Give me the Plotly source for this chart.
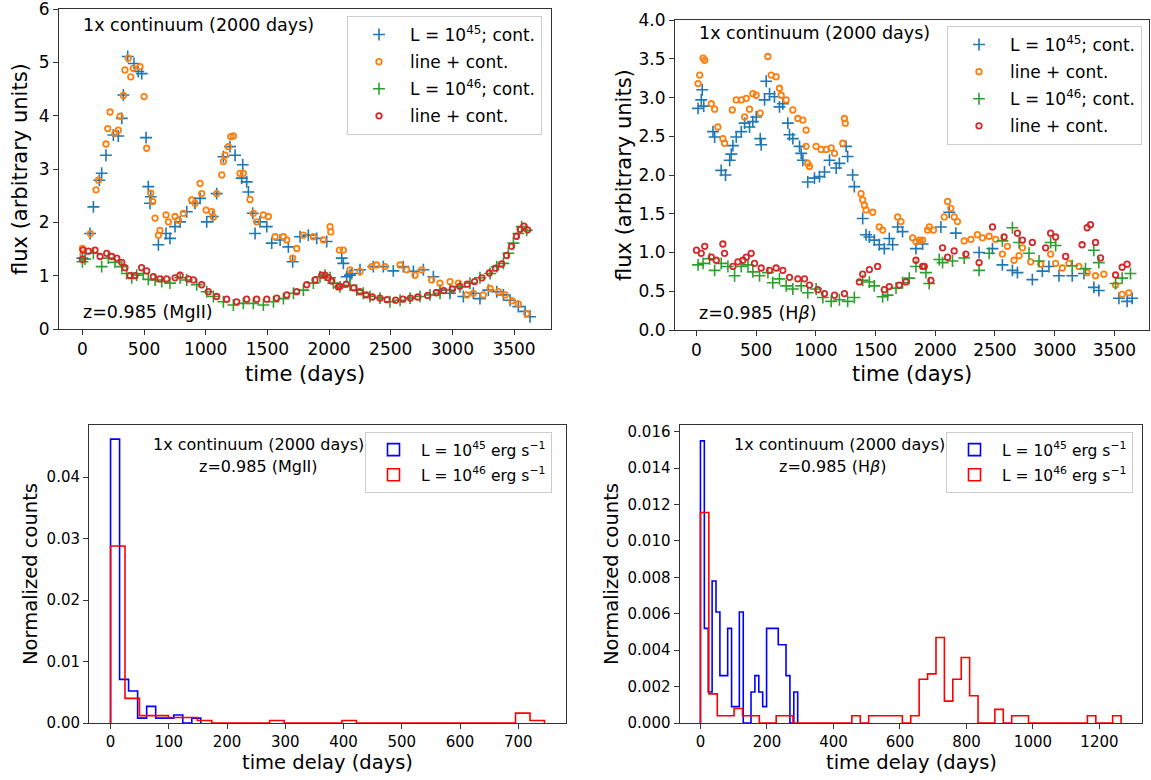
import numpy as np
import plotly.graph_objects as go

W, H = 1151, 780
FONT = "DejaVu Sans"
BLUE, ORANGE, GREEN, RED = "#1f77b4", "#ff7f0e", "#2ca02c", "#d62728"

# ---------------- light curves, MgII (top-left) ----------------
t_mg_c45 = [0, 62, 89, 137, 156, 191, 251, 291, 319, 332, 367, 418, 453, 481, 516, 534, 548, 554, 616, 678,
            710, 751, 792, 846, 913, 954, 1008, 1057, 1089, 1143, 1197, 1238, 1292, 1300, 1332, 1346, 1381, 1400, 1440, 1495,
            1535, 1603, 1670, 1705, 1765, 1832, 1900, 1981, 2103, 2116, 2143, 2170, 2184, 2251, 2359, 2440, 2521, 2602, 2684, 2765,
            2846, 2900, 2981, 3089, 3170, 3224, 3292, 3360, 3414, 3468, 3535, 3590, 3630]
f_mg_c45 = [1.33, 1.79, 2.29, 2.79, 2.92, 3.26, 3.64, 3.62, 3.95, 4.39, 5.11, 4.98, 4.83, 4.79, 3.59, 2.67, 2.36, 2.48, 1.58, 1.79,
            1.70, 1.92, 2.01, 2.20, 2.36, 2.45, 2.01, 2.11, 2.54, 3.23, 3.42, 3.26, 2.83, 3.08, 2.76, 2.57, 2.17, 1.79, 2.01, 1.92,
            1.61, 1.67, 1.54, 1.26, 1.73, 1.76, 1.70, 1.64, 1.33, 1.23, 0.98, 1.01, 1.04, 1.11, 1.17, 1.17, 1.09, 1.17, 1.08, 1.11,
            0.98, 0.73, 0.67, 0.61, 0.67, 0.57, 0.73, 0.70, 0.64, 0.54, 0.42, 0.33, 0.23]

t_mg_l45 = [0, 5, 65, 110, 130, 191, 205, 224, 264, 291, 305, 332, 345, 372, 392, 413, 467, 500, 521, 554,
            570, 589, 616, 629, 678, 697, 751, 778, 819, 886, 913, 954, 967, 1003, 1049, 1062, 1089, 1130, 1143, 1157,
            1184, 1203, 1224, 1278, 1305, 1359, 1386, 1413, 1467, 1508, 1562, 1630, 1657, 1705, 1738, 1792, 1873, 1954, 2008, 2014,
            2084, 2116, 2170, 2251, 2346, 2386, 2454, 2576, 2630, 2697, 2751, 2832, 2900, 2981, 3049, 3117, 3170, 3251, 3306, 3374,
            3428, 3482, 3535, 3603]
f_mg_l45 = [1.51, 1.40, 1.79, 2.61, 2.79, 3.47, 3.76, 4.07, 3.67, 3.73, 3.99, 4.38, 4.86, 5.08, 4.73, 4.89, 4.92, 4.36, 3.39, 2.55,
            2.39, 2.08, 1.76, 1.85, 2.14, 2.01, 2.11, 2.04, 2.17, 2.42, 2.36, 2.73, 2.54, 2.23, 2.20, 2.10, 2.54, 2.89, 3.14, 3.26,
            3.42, 3.61, 3.62, 2.92, 2.92, 2.43, 2.17, 2.01, 2.14, 2.11, 1.73, 1.73, 1.67, 1.33, 1.51, 1.76, 1.73, 1.67, 1.92, 1.82,
            1.48, 1.48, 1.11, 1.08, 1.17, 1.20, 1.17, 1.20, 1.11, 1.01, 1.11, 0.92, 0.86, 0.89, 0.86, 0.64, 0.67, 0.64, 0.76, 0.70,
            0.64, 0.53, 0.47, 0.29]

t_mg_c46 = [0, 21, 89, 156, 210, 264, 319, 359, 400, 440, 494, 534, 589, 643, 710, 792, 846, 927, 1008, 1062,
            1143, 1224, 1305, 1386, 1467, 1549, 1630, 1711, 1792, 1873, 1927, 1968, 2008, 2035, 2089, 2170, 2224, 2278, 2332, 2413,
            2494, 2576, 2657, 2738, 2819, 2900, 2981, 3062, 3143, 3224, 3306, 3360, 3414, 3454, 3495, 3535, 3562, 3603]
f_mg_c46 = [1.26, 1.31, 1.42, 1.17, 1.33, 1.25, 1.17, 1.04, 0.96, 1.01, 1.04, 0.93, 0.92, 0.89, 0.86, 0.96, 0.92, 0.83, 0.70, 0.61,
            0.51, 0.45, 0.48, 0.48, 0.45, 0.51, 0.57, 0.67, 0.73, 0.86, 0.98, 1.01, 0.96, 0.86, 0.79, 0.82, 0.73, 0.67, 0.61, 0.58,
            0.51, 0.54, 0.58, 0.61, 0.64, 0.67, 0.73, 0.79, 0.86, 0.96, 1.04, 1.17, 1.23, 1.42, 1.61, 1.79, 1.92, 1.85]

t_mg_l46 = [0, 5, 48, 102, 143, 197, 237, 278, 319, 345, 386, 426, 480, 521, 575, 629, 683, 751, 792, 859,
            900, 967, 1021, 1089, 1170, 1251, 1332, 1413, 1495, 1576, 1657, 1738, 1819, 1886, 1941, 1968, 1995, 2022, 2076, 2089,
            2140, 2200, 2250, 2300, 2350, 2413, 2470, 2540, 2600, 2660, 2720, 2800, 2870, 2930, 3000, 3060, 3120, 3180, 3240, 3300,
            3350, 3400, 3440, 3480, 3520, 3550, 3580, 3610]
f_mg_l46 = [1.31, 1.48, 1.46, 1.48, 1.36, 1.42, 1.36, 1.33, 1.25, 1.15, 1.00, 1.00, 1.15, 1.09, 0.98, 0.94, 0.94, 0.96, 1.01, 0.94,
            0.92, 0.83, 0.70, 0.61, 0.56, 0.51, 0.56, 0.56, 0.56, 0.58, 0.64, 0.70, 0.83, 0.92, 1.01, 1.01, 0.96, 0.90, 0.79, 0.80,
            0.84, 0.77, 0.70, 0.64, 0.60, 0.58, 0.55, 0.54, 0.56, 0.58, 0.60, 0.63, 0.68, 0.72, 0.75, 0.80, 0.84, 0.89, 0.96, 1.05,
            1.14, 1.22, 1.38, 1.55, 1.74, 1.87, 1.93, 1.86]

# ---------------- light curves, Hbeta (top-right) ----------------
t_hb_c45 = [13, 40, 48, 61, 138, 152, 207, 243, 278, 291, 305, 333, 375, 403, 444, 472, 500, 534, 542, 570,
            584, 612, 653, 695, 723, 765, 779, 807, 863, 877, 891, 932, 988, 1030, 1072, 1114, 1170, 1197, 1253, 1266,
            1308, 1322, 1392, 1420, 1448, 1489, 1531, 1573, 1615, 1643, 1685, 1726, 1838, 1894, 2047, 2117, 2172, 2367, 2479, 2562,
            2646, 2688, 2813, 2897, 2952, 3036, 3147, 3245, 3328, 3370, 3538, 3607, 3649]
f_hb_c45 = [2.86, 2.97, 3.10, 2.89, 2.56, 2.49, 2.06, 2.00, 2.19, 2.27, 2.38, 2.49, 2.56, 2.67, 2.62, 2.69, 2.75, 2.47, 2.39, 2.97,
            3.21, 3.05, 3.01, 2.88, 2.92, 2.67, 2.52, 2.47, 2.37, 2.28, 2.19, 1.91, 1.96, 1.98, 2.04, 2.19, 2.09, 2.15, 2.37, 2.24,
            2.00, 1.85, 1.44, 1.23, 1.20, 1.16, 1.10, 1.05, 1.18, 1.10, 1.33, 1.27, 1.05, 1.11, 1.33, 1.52, 1.25, 1.00, 1.05, 0.84,
            0.77, 0.74, 0.65, 0.76, 0.82, 0.70, 0.70, 0.73, 0.55, 0.51, 0.41, 0.37, 0.41]

t_hb_l45 = [13, 27, 55, 69, 124, 152, 179, 221, 235, 300, 333, 375, 403, 417, 444, 472, 500, 534, 598, 626,
            667, 695, 709, 751, 807, 849, 891, 918, 918, 932, 946, 1002, 1044, 1086, 1128, 1156, 1225, 1239, 1246, 1378,
            1392, 1406, 1420, 1476, 1531, 1559, 1685, 1713, 1810, 1838, 1866, 1894, 1935, 1950, 1985, 2075, 2103, 2130, 2158, 2186,
            2242, 2298, 2353, 2395, 2451, 2506, 2562, 2604, 2660, 2702, 2730, 2799, 2883, 2966, 3008, 3064, 3119, 3203, 3272, 3342,
            3412, 3510, 3565, 3621]
f_hb_l45 = [3.18, 3.29, 3.51, 3.48, 2.92, 2.85, 2.62, 2.47, 2.41, 2.84, 2.97, 2.97, 2.75, 2.99, 2.85, 3.05, 3.03, 2.80, 3.53, 3.29,
            3.27, 3.12, 3.03, 2.97, 2.84, 2.73, 2.71, 2.58, 2.37, 2.15, 2.11, 2.37, 2.33, 2.33, 2.35, 2.28, 2.41, 2.73, 2.67, 1.76,
            1.68, 1.61, 1.55, 1.52, 1.33, 1.29, 1.46, 1.40, 1.19, 1.14, 1.16, 1.16, 1.29, 1.33, 1.29, 1.46, 1.66, 1.57, 1.46, 1.40,
            1.15, 1.17, 1.23, 1.19, 1.21, 1.17, 0.98, 1.08, 0.90, 0.96, 1.06, 0.88, 0.85, 0.98, 0.86, 0.80, 0.86, 0.82, 0.74, 0.70,
            0.72, 0.58, 0.46, 0.48]

t_hb_c46 = [13, 55, 110, 152, 207, 263, 319, 375, 431, 472, 528, 598, 639, 695, 751, 807, 877, 932, 1002, 1058,
            1128, 1197, 1266, 1322, 1392, 1448, 1489, 1559, 1601, 1671, 1726, 1782, 1838, 1922, 1949, 2033, 2061, 2144, 2242, 2367,
            2451, 2562, 2646, 2702, 2785, 2869, 2966, 3008, 3147, 3258, 3328, 3370, 3510, 3565, 3635]
f_hb_c46 = [0.84, 0.86, 0.92, 0.77, 0.86, 0.82, 0.70, 0.82, 0.84, 0.75, 0.70, 0.74, 0.61, 0.66, 0.57, 0.53, 0.57, 0.48, 0.53, 0.42,
            0.37, 0.39, 0.37, 0.42, 0.64, 0.62, 0.57, 0.43, 0.45, 0.54, 0.61, 0.67, 0.82, 0.74, 0.60, 0.91, 0.87, 0.89, 0.93, 0.77,
            0.99, 1.15, 1.32, 1.13, 0.99, 0.89, 1.13, 1.09, 0.83, 0.79, 1.03, 0.87, 0.60, 0.67, 0.73]

t_hb_l46 = [0, 40, 69, 124, 166, 221, 235, 305, 347, 389, 417, 458, 486, 542, 612, 667, 723, 779, 849, 905,
            946, 1016, 1072, 1156, 1239, 1364, 1392, 1448, 1517, 1573, 1615, 1699, 1754, 1838, 1894, 1908, 1963, 2061, 2103, 2158,
            2256, 2367, 2479, 2576, 2688, 2730, 2813, 2924, 2966, 3008, 3092, 3230, 3272, 3300, 3342, 3384, 3510, 3565, 3607]
f_hb_l46 = [1.03, 0.99, 1.08, 0.94, 0.90, 1.11, 0.99, 0.82, 0.88, 0.90, 0.94, 0.99, 0.86, 0.80, 0.77, 0.80, 0.77, 0.68, 0.66, 0.66,
            0.58, 0.52, 0.47, 0.45, 0.47, 0.62, 0.72, 0.78, 0.82, 0.52, 0.56, 0.58, 0.62, 0.90, 0.82, 0.82, 0.64, 1.06, 0.94, 1.02,
            0.98, 0.87, 1.33, 1.20, 1.25, 1.16, 1.13, 1.06, 1.25, 1.20, 0.95, 1.10, 1.32, 1.36, 1.13, 0.93, 0.71, 0.81, 0.85]

# ---------------- time-delay histograms ----------------
mg45_range, mg45_counts = (0, 155), [0.0462, 0.0071, 0.0052, 0.0008, 0.0027, 0.0008, 0.0008, 0.0013, 0.0, 0.0008]
mg46_range, mg46_counts = (0, 745), [0.0288, 0.0040, 0.0012, 0.0012, 0.0009, 0.0009, 0.0004, 0, 0, 0,
                                     0, 0.0004, 0, 0, 0, 0, 0.0004, 0, 0, 0,
                                     0, 0, 0, 0, 0, 0, 0, 0, 0.0016, 0.0004]
hb45_range, hb45_counts = (0, 292.5), [0.0155, 0.0052, 0.0017, 0.0078, 0.0061, 0.0026, 0.0026, 0.0052, 0.0009, 0.0009,
                                       0.0061, 0, 0, 0.0017, 0.0026, 0.0017, 0.0009, 0.0052, 0.0052, 0.0052,
                                       0.0043, 0.0043, 0.0026, 0, 0.0017]
hb46_range, hb46_counts = (0, 1265), [0.01156, 0.0016, 0.0004, 0.0004, 0.0008, 0.0004, 0.0004, 0, 0, 0.0004,
                                      0.0004, 0, 0, 0, 0, 0, 0, 0, 0.0004, 0,
                                      0.0004, 0.0004, 0.0004, 0.0004, 0, 0.0004, 0.0024, 0.0027, 0.0047, 0.0012,
                                      0.0024, 0.0036, 0.0015, 0, 0, 0.00075, 0, 0.0004, 0.0004, 0,
                                      0, 0, 0, 0, 0, 0, 0.0004, 0, 0, 0.0004]

lab45 = "L = 10<sup>45</sup>; cont."
lab46 = "L = 10<sup>46</sup>; cont."
labline = "line + cont."
hlab45 = "L = 10<sup>45</sup> erg s<sup>\u22121</sup>"
hlab46 = "L = 10<sup>46</sup> erg s<sup>\u22121</sup>"

fig = go.Figure()


def marker(kind, color):
    if kind == "cross":
        return dict(symbol="cross-thin-open", size=8.5, color=color, line=dict(color=color, width=1.6))
    return dict(symbol="circle-open", size=5.5, color=color, line=dict(color=color, width=1.8))


def add_lc(t, f, kind, color, name, ax, leg):
    fig.add_trace(go.Scatter(x=t, y=f, mode="markers", marker=marker(kind, color), name=name,
                             xaxis="x" + ax, yaxis="y" + ax, legend=leg, legendgroup=leg + name + color))


add_lc(t_mg_c45, f_mg_c45, "cross", BLUE, lab45, "", "legend")
add_lc(t_mg_l45, f_mg_l45, "circ", ORANGE, labline, "", "legend")
add_lc(t_mg_c46, f_mg_c46, "cross", GREEN, lab46, "", "legend")
add_lc(t_mg_l46, f_mg_l46, "circ", RED, labline, "", "legend")

add_lc(t_hb_c45, f_hb_c45, "cross", BLUE, lab45, "2", "legend2")
add_lc(t_hb_l45, f_hb_l45, "circ", ORANGE, labline, "2", "legend2")
add_lc(t_hb_c46, f_hb_c46, "cross", GREEN, lab46, "2", "legend2")
add_lc(t_hb_l46, f_hb_l46, "circ", RED, labline, "2", "legend2")


def add_hist(rng, counts, color, name, ax, leg):
    edges = np.linspace(rng[0], rng[1], len(counts) + 1)
    xs = [edges[0]] + list(edges[:-1]) + [edges[-1]]
    ys = [0] + list(counts) + [0]
    fig.add_trace(go.Scatter(x=xs, y=ys, mode="lines", line=dict(color=color, width=1.6, shape="hv"),
                             xaxis="x" + ax, yaxis="y" + ax, showlegend=False, hoverinfo="skip"))
    fig.add_trace(go.Bar(x=[None], y=[None], name=name, xaxis="x" + ax, yaxis="y" + ax, legend=leg,
                         legendgroup=leg + name,
                         marker=dict(color="rgba(0,0,0,0)", line=dict(color=color, width=1.6))))


add_hist(mg45_range, mg45_counts, "blue", hlab45, "3", "legend3")
add_hist(mg46_range, mg46_counts, "red", hlab46, "3", "legend3")
add_hist(hb45_range, hb45_counts, "blue", hlab45, "4", "legend4")
add_hist(hb46_range, hb46_counts, "red", hlab46, "4", "legend4")


def px(x):
    return x / W


def py(y):
    return 1 - y / H


def axis(dom, rng, dtick, size, fmt=None, anchor=None):
    d = dict(domain=dom, range=rng, dtick=dtick, tick0=0, showline=True, linecolor="#333", linewidth=1,
             mirror=True, ticks="outside", ticklen=5, tickwidth=1, tickcolor="#333", showgrid=False,
             zeroline=False, automargin=False, ticklabeloverflow="allow",
             tickfont=dict(family=FONT, size=size, color="black"), anchor=anchor)
    if fmt:
        d["tickformat"] = fmt
    return d


fig.update_layout(
    width=W, height=H, margin=dict(l=0, r=0, t=0, b=0, autoexpand=False),
    paper_bgcolor="white", plot_bgcolor="white",
    font=dict(family=FONT, color="black"),
    xaxis=axis([px(59), px(551)], [-190, 3800], 500, 17, anchor="y"),
    yaxis=axis([py(329), py(9)], [0, 6.002], 1, 17, anchor="x"),
    xaxis2=axis([px(675), px(1149)], [-180, 3790], 500, 17, anchor="y2"),
    yaxis2=axis([py(330), py(20)], [0, 4.001], 0.5, 17, ".1f", anchor="x2"),
    xaxis3=axis([px(89), px(566)], [-37, 782], 100, 15, anchor="y3"),
    yaxis3=axis([py(723), py(425)], [0, 0.0485], 0.01, 15, ".2f", anchor="x3"),
    xaxis4=axis([px(679.5), px(1142)], [-63, 1328], 200, 15, anchor="y4"),
    yaxis4=axis([py(723), py(425)], [0, 0.01637], 0.002, 15, ".3f", anchor="x4"),
)

legstyle = dict(bgcolor="rgba(255,255,255,0.85)", bordercolor="#cccccc", borderwidth=1,
                xanchor="right", yanchor="top", tracegroupgap=2)
fig.update_layout(
    legend=dict(x=px(542), y=py(16), font=dict(family=FONT, size=17), itemwidth=52, **legstyle),
    legend2=dict(x=px(1142), y=py(26), font=dict(family=FONT, size=17), itemwidth=52, **legstyle),
    legend3=dict(x=px(552), y=py(432), font=dict(family=FONT, size=15.5), itemwidth=45, **legstyle),
    legend4=dict(x=px(1133), y=py(432), font=dict(family=FONT, size=15.5), itemwidth=45, **legstyle),
)


def note(text, x, y, size, xanchor="left", angle=0):
    fig.add_annotation(text=text, x=px(x), y=py(y), xref="paper", yref="paper", showarrow=False,
                       xanchor=xanchor, yanchor="middle", textangle=angle,
                       font=dict(family=FONT, size=size, color="black"))


note("1x continuum (2000 days)", 81, 25, 17.5)
note("z=0.985 (MgII)", 81, 312, 17.5)
note("1x continuum (2000 days)", 697, 33, 17.5)
note("z=0.985 (H<i>\u03b2</i>)", 697, 313, 17.5)
note("1x continuum (2000 days)", 258, 444, 16, "center")
note("z=0.985 (MgII)", 258, 466, 16, "center")
note("1x continuum (2000 days)", 839, 444, 16, "center")
note("z=0.985 (H<i>\u03b2</i>)", 832, 466, 16, "center")

note("time (days)", 305, 374, 21, "center")
note("time (days)", 912, 374, 21, "center")
note("flux (arbitrary units)", 20, 169, 21, "center", -90)
note("flux (arbitrary units)", 624, 175, 21, "center", -90)
note("time delay (days)", 327, 762, 19.5, "center")
note("time delay (days)", 911, 762, 19.5, "center")
note("Normalized counts", 30, 574, 19.5, "center", -90)
note("Normalized counts", 611, 574, 19.5, "center", -90)

fig.write_html("out.html", config={"displayModeBar": False},
               post_script="document.body.style.margin='0';document.body.style.overflow='hidden';")
